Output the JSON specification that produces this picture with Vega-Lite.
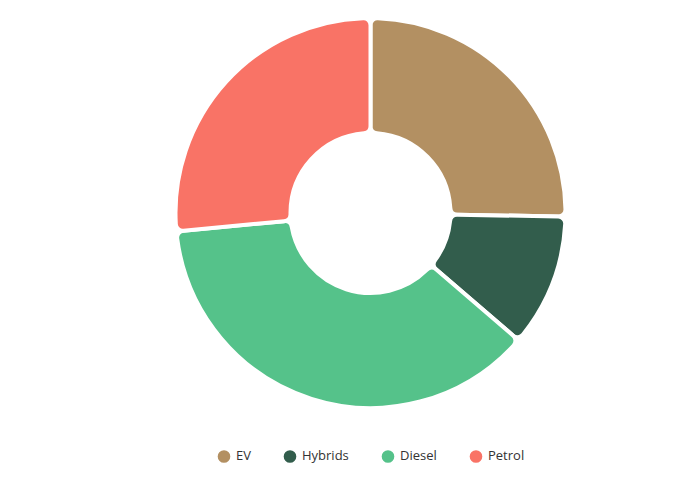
{
  "$schema": "https://vega.github.io/schema/vega-lite/v6.json",
  "autosize": {"type": "none"},
  "padding": {"left": 66, "top": 0, "right": 0, "bottom": 75},
  "width": 609,
  "height": 426,
  "data": {"values": [
    {"fuel": "EV", "share": 25.3},
    {"fuel": "Hybrids", "share": 11},
    {"fuel": "Diesel", "share": 37.2},
    {"fuel": "Petrol", "share": 26.5}
  ]},
  "transform": [{"window": [{"op": "row_number", "as": "idx"}]}],
  "mark": {"type": "arc", "outerRadius": 195, "innerRadius": 80, "cornerRadius": 7, "stroke": "white", "strokeWidth": 4},
  "encoding": {
    "theta": {"field": "share", "type": "quantitative", "stack": true},
    "order": {"field": "idx", "type": "quantitative"},
    "color": {
      "field": "fuel", "type": "nominal", "title": null,
      "sort": ["EV", "Hybrids", "Diesel", "Petrol"],
      "scale": {"domain": ["EV", "Hybrids", "Diesel", "Petrol"], "range": ["#B39062", "#325D4C", "#55C28A", "#F97366"]},
      "legend": {"orient": "bottom", "direction": "horizontal", "symbolType": "circle", "symbolSize": 200, "symbolOpacity": 1, "labelFont": "Open Sans", "labelFontSize": 13, "labelColor": "#333", "columnPadding": 28, "offset": 22}
    }
  },
  "config": {"view": {"stroke": null}, "legend": {"layout": {"bottom": {"anchor": "middle"}}}}
}
